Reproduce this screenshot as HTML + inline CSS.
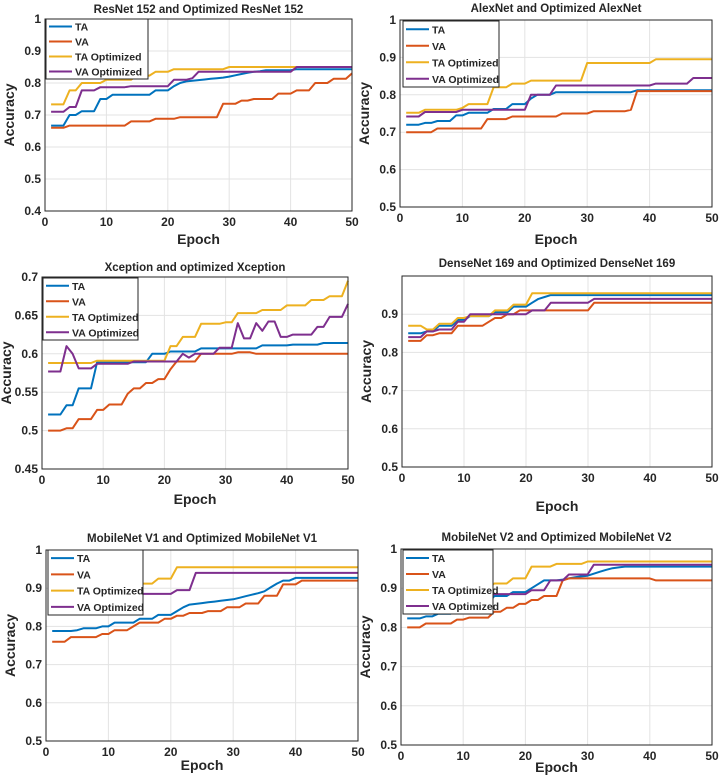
<!DOCTYPE html>
<html><head><meta charset="utf-8"><style>
body{margin:0;background:#fff}
svg text{font-family:"Liberation Sans",sans-serif;font-weight:bold;fill:#262626}
</style></head><body>
<svg id="c" width="720" height="777" xmlns="http://www.w3.org/2000/svg"></svg>
<script>
const epochs=[1,2,3,4,5,6,7,8,9,10,11,12,13,14,15,16,17,18,19,20,21,22,23,24,25,26,27,28,29,30,31,32,33,34,35,36,37,38,39,40,41,42,43,44,45,46,47,48,49,50];
const seriesNames=["TA","VA","TA Optimized","VA Optimized"];
const xTicks=[0,10,20,30,40,50];

const resnetTA=[.667,.667,.667,.70,.70,.712,.712,.712,.75,.75,.763,.763,.763,.763,.763,.763,.763,.777,.777,.777,.79,.80,.805,.807,.809,.811,.813,.815,.817,.82,.824,.828,.832,.835,.837,.84,.84,.84,.84,.84,.843,.843,.843,.843,.843,.843,.843,.843,.843,.843];
const resnetVA=[.66,.66,.66,.667,.667,.667,.667,.667,.667,.667,.667,.667,.667,.68,.68,.68,.68,.688,.688,.688,.688,.693,.693,.693,.693,.693,.693,.693,.735,.735,.735,.745,.745,.75,.75,.75,.75,.767,.767,.767,.777,.777,.777,.80,.80,.80,.813,.813,.813,.83];
const resnetTAopt=[.733,.733,.733,.777,.777,.80,.80,.80,.80,.81,.81,.81,.81,.81,.823,.823,.823,.835,.835,.835,.843,.843,.843,.843,.843,.843,.843,.843,.843,.85,.85,.85,.85,.85,.85,.85,.85,.85,.85,.85,.85,.85,.85,.85,.85,.85,.85,.85,.85,.85];
const resnetVAopt=[.71,.71,.71,.725,.725,.777,.777,.777,.787,.787,.787,.787,.787,.79,.79,.79,.79,.79,.79,.79,.81,.81,.81,.815,.835,.835,.835,.835,.835,.835,.835,.835,.835,.835,.835,.835,.835,.835,.835,.835,.85,.85,.85,.85,.85,.85,.85,.85,.85,.85];

const alexTA=[.72,.72,.72,.725,.725,.73,.73,.73,.745,.745,.752,.752,.752,.752,.762,.762,.762,.775,.775,.775,.79,.80,.80,.80,.807,.807,.807,.807,.807,.807,.807,.807,.807,.807,.807,.807,.807,.812,.812,.812,.812,.812,.812,.812,.812,.812,.812,.812,.812,.812];
const alexVA=[.70,.70,.70,.70,.70,.71,.71,.71,.71,.71,.71,.71,.71,.735,.735,.735,.735,.742,.742,.742,.742,.742,.742,.742,.742,.75,.75,.75,.75,.75,.756,.756,.756,.756,.756,.756,.76,.81,.81,.81,.81,.81,.81,.81,.81,.81,.81,.81,.81,.81];
const alexTAopt=[.752,.752,.752,.76,.76,.76,.76,.76,.76,.765,.775,.775,.775,.775,.82,.82,.82,.83,.83,.83,.838,.838,.838,.838,.838,.838,.838,.838,.838,.885,.885,.885,.885,.885,.885,.885,.885,.885,.885,.885,.895,.895,.895,.895,.895,.895,.895,.895,.895,.895];
const alexVAopt=[.742,.742,.742,.754,.754,.754,.754,.754,.754,.76,.76,.76,.76,.76,.76,.76,.76,.76,.76,.76,.80,.80,.80,.80,.825,.825,.825,.825,.825,.825,.825,.825,.825,.825,.825,.825,.825,.825,.825,.825,.83,.83,.83,.83,.83,.83,.845,.845,.845,.845];

const xcepTA=[.521,.521,.521,.533,.533,.555,.555,.555,.589,.589,.589,.589,.589,.589,.589,.589,.589,.60,.60,.60,.603,.603,.603,.603,.603,.607,.607,.607,.607,.607,.607,.607,.607,.607,.607,.611,.611,.611,.611,.611,.612,.612,.612,.612,.612,.614,.614,.614,.614,.614];
const xcepVA=[.50,.50,.50,.503,.503,.515,.515,.515,.527,.527,.534,.534,.534,.548,.555,.555,.562,.562,.567,.567,.58,.59,.59,.59,.59,.60,.60,.60,.60,.60,.60,.602,.602,.602,.60,.60,.60,.60,.60,.60,.60,.60,.60,.60,.60,.60,.60,.60,.60,.60];
const xcepTAopt=[.588,.588,.588,.588,.588,.588,.588,.588,.591,.591,.591,.591,.591,.591,.591,.591,.591,.591,.591,.591,.61,.61,.622,.622,.622,.639,.639,.639,.639,.641,.641,.653,.653,.653,.653,.657,.657,.657,.657,.663,.663,.663,.663,.67,.67,.67,.675,.675,.675,.695];
const xcepVAopt=[.577,.577,.577,.61,.60,.581,.581,.581,.587,.587,.587,.587,.587,.587,.59,.59,.59,.59,.59,.59,.59,.59,.60,.595,.60,.60,.60,.60,.608,.608,.608,.64,.62,.62,.64,.63,.642,.642,.622,.622,.625,.625,.625,.625,.635,.635,.648,.648,.648,.665];

const denseTA=[.85,.85,.85,.855,.855,.87,.87,.87,.885,.885,.895,.895,.895,.895,.905,.905,.905,.92,.92,.92,.93,.94,.945,.95,.95,.95,.95,.95,.95,.95,.95,.95,.95,.95,.95,.95,.95,.95,.95,.95,.95,.95,.95,.95,.95,.95,.95,.95,.95,.95];
const denseVA=[.83,.83,.83,.845,.845,.85,.85,.85,.87,.87,.87,.87,.87,.88,.89,.89,.90,.90,.91,.91,.91,.91,.91,.91,.91,.91,.91,.91,.91,.91,.93,.93,.93,.93,.93,.93,.93,.93,.93,.93,.93,.93,.93,.93,.93,.93,.93,.93,.93,.93];
const denseTAopt=[.87,.87,.87,.86,.86,.875,.875,.875,.89,.89,.895,.895,.895,.895,.91,.91,.91,.925,.925,.925,.955,.955,.955,.955,.955,.955,.955,.955,.955,.955,.955,.955,.955,.955,.955,.955,.955,.955,.955,.955,.955,.955,.955,.955,.955,.955,.955,.955,.955,.955];
const denseVAopt=[.84,.84,.84,.855,.855,.86,.86,.86,.88,.88,.90,.90,.90,.90,.90,.90,.90,.90,.90,.90,.91,.91,.91,.93,.93,.93,.93,.93,.93,.93,.94,.94,.94,.94,.94,.94,.94,.94,.94,.94,.94,.94,.94,.94,.94,.94,.94,.94,.94,.94];

const mob1TA=[.788,.788,.788,.788,.79,.795,.795,.795,.80,.80,.81,.81,.81,.81,.82,.82,.82,.83,.83,.83,.84,.85,.857,.859,.861,.863,.865,.867,.869,.871,.875,.879,.883,.887,.892,.902,.912,.92,.92,.927,.927,.927,.927,.927,.927,.927,.927,.927,.927,.927];
const mob1VA=[.76,.76,.76,.772,.772,.772,.772,.772,.78,.78,.79,.79,.79,.80,.81,.81,.81,.81,.82,.82,.828,.828,.835,.835,.835,.84,.84,.84,.85,.85,.85,.86,.86,.86,.88,.88,.88,.91,.91,.91,.92,.92,.92,.92,.92,.92,.92,.92,.92,.92];
const mob1TAopt=[.90,.90,.90,.90,.90,.90,.90,.90,.90,.90,.90,.90,.90,.90,.912,.912,.912,.925,.925,.925,.955,.955,.955,.955,.955,.955,.955,.955,.955,.955,.955,.955,.955,.955,.955,.955,.955,.955,.955,.955,.955,.955,.955,.955,.955,.955,.955,.955,.955,.955];
const mob1VAopt=[.88,.88,.88,.88,.88,.88,.88,.88,.88,.88,.88,.88,.88,.88,.885,.885,.885,.885,.885,.885,.895,.895,.895,.94,.94,.94,.94,.94,.94,.94,.94,.94,.94,.94,.94,.94,.94,.94,.94,.94,.94,.94,.94,.94,.94,.94,.94,.94,.94,.94];

const mob2TA=[.823,.823,.823,.828,.828,.835,.835,.835,.845,.845,.86,.86,.86,.86,.88,.88,.88,.89,.89,.89,.90,.91,.92,.92,.92,.922,.925,.928,.93,.932,.937,.942,.947,.951,.953,.955,.955,.955,.955,.955,.955,.955,.955,.955,.955,.955,.955,.955,.955,.955];
const mob2VA=[.80,.80,.80,.81,.81,.81,.81,.81,.82,.82,.825,.825,.825,.825,.84,.84,.85,.85,.86,.86,.87,.87,.88,.88,.88,.92,.925,.925,.925,.925,.925,.925,.925,.925,.925,.925,.925,.925,.925,.925,.92,.92,.92,.92,.92,.92,.92,.92,.92,.92];
const mob2TAopt=[.90,.90,.90,.90,.90,.90,.90,.90,.90,.90,.90,.90,.90,.90,.912,.912,.912,.925,.925,.925,.955,.955,.955,.955,.962,.962,.962,.962,.962,.968,.968,.968,.968,.968,.968,.968,.968,.968,.968,.968,.968,.968,.968,.968,.968,.968,.968,.968,.968,.968];
const mob2VAopt=[.88,.88,.88,.88,.88,.88,.88,.88,.88,.88,.88,.88,.88,.88,.885,.885,.885,.885,.885,.885,.895,.895,.895,.92,.92,.92,.935,.935,.935,.935,.96,.96,.96,.96,.96,.96,.96,.96,.96,.96,.96,.96,.96,.96,.96,.96,.96,.96,.96,.96];

const ticks04=["0.4","0.5","0.6","0.7","0.8","0.9","1"];
const ticks05=["0.5","0.6","0.7","0.8","0.9","1"];
const ticksX=["0.45","0.5","0.55","0.6","0.65","0.7"];
const ticksD=["0.5","0.6","0.7","0.8","0.9"];

const colors=["#0072BD","#D95319","#EDB120","#7E2F8E"];
const panels=[
 {name:"resnet",title:"ResNet 152 and Optimized ResNet 152",box:[45,19,352,211],y0:.4,y1:1,yt:ticks04,leg:[46,19,102,60],ty:13,ey:244,s:[resnetTA,resnetVA,resnetTAopt,resnetVAopt]},
 {name:"alexnet",title:"AlexNet and Optimized AlexNet",box:[400,20,712,207],y0:.5,y1:1,yt:ticks05,leg:[403,21,96,66],ty:12,ey:244,s:[alexTA,alexVA,alexTAopt,alexVAopt]},
 {name:"xception",title:"Xception and optimized Xception",box:[42,277,348,469],y0:.45,y1:.7,yt:ticksX,leg:[43,278,95,62],ty:271,ey:504,s:[xcepTA,xcepVA,xcepTAopt,xcepVAopt]},
 {name:"densenet",title:"DenseNet 169 and Optimized DenseNet 169",box:[402,276,712,467],y0:.5,y1:1,yt:ticksD,leg:null,ty:267,ey:511,s:[denseTA,denseVA,denseTAopt,denseVAopt]},
 {name:"mobilenet-v1",title:"MobileNet V1 and Optimized MobileNet V1",box:[46,550,358,741],y0:.5,y1:1,yt:ticks05,leg:[48,550,95,65],ty:542,ey:770,s:[mob1TA,mob1VA,mob1TAopt,mob1VAopt]},
 {name:"mobilenet-v2",title:"MobileNet V2 and Optimized MobileNet V2",box:[401,549,712,745],y0:.5,y1:1,yt:ticks05,leg:[403,550,90,64],ty:541,ey:772,s:[mob2TA,mob2VA,mob2TAopt,mob2VAopt]}
];
const NS="http://www.w3.org/2000/svg";
const svg=document.getElementById("c");
function mk(tag,attrs,parent){const e=document.createElementNS(NS,tag);for(const k in attrs)e.setAttribute(k,attrs[k]);parent.appendChild(e);return e;}
panels.forEach(p=>{
 const g=mk("g",{},svg);
 
 
 const [L,T,R,B]=p.box;
 const xs=v=>L+(v-0)/(50-0)*(R-L);
 const ys=v=>B-(v-p.y0)/(p.y1-p.y0)*(B-T);
 mk("rect",{x:L,y:T,width:R-L,height:B-T,fill:"#fff",stroke:"none"},g);
 xTicks.forEach(t=>{
  mk("line",{x1:xs(t),x2:xs(t),y1:T,y2:B,stroke:"#e3e3e3","stroke-width":1},g);
  const tx=mk("text",{x:xs(t),y:B+15,"text-anchor":"middle","font-size":12},g);
  tx.textContent=t;
  
  
 });
 p.yt.forEach(lbl=>{
  const v=parseFloat(lbl);
  mk("line",{x1:L,x2:R,y1:ys(v),y2:ys(v),stroke:"#e3e3e3","stroke-width":1},g);
  const tx=mk("text",{x:L-4,y:ys(v)+4,"text-anchor":"end","font-size":12},g);
  tx.textContent=lbl;
  
  
 });
 p.s.forEach((arr,i)=>{
  const d=arr.map((v,j)=>(j?"L":"M")+xs(epochs[j]).toFixed(1)+" "+ys(v).toFixed(1)).join(" ");
  const path=mk("path",{d:d,fill:"none",stroke:colors[i],"stroke-width":2,"stroke-linejoin":"round"},g);
  
  
 });
 mk("rect",{x:L,y:T,width:R-L,height:B-T,fill:"none",stroke:"#262626","stroke-width":1},g);
 const title=mk("text",{x:(L+R)/2,y:p.ty,"text-anchor":"middle","font-size":11.5},g);
 title.textContent=p.title;
 
 
 const xl=mk("text",{x:(L+R)/2,y:p.ey,"text-anchor":"middle","font-size":14},g);
 xl.textContent="Epoch";
 
 
 const cy=(T+B)/2;
 const yl=mk("text",{x:0,y:0,"text-anchor":"middle","font-size":14,transform:`translate(${L-31},${cy}) rotate(-90)`},g);
 yl.textContent="Accuracy";
 
 
 if(p.leg){
  const [lx,ly,lw,lh]=p.leg;
  const lg=mk("g",{},g);
  
  
  mk("rect",{x:lx,y:ly,width:lw,height:lh,fill:"#fff",stroke:"#262626","stroke-width":1},lg);
  const step=lh/4;
  seriesNames.forEach((n,i)=>{
   const yy=ly+step*(i+0.5);
   mk("line",{x1:lx+3,x2:lx+26,y1:yy,y2:yy,stroke:colors[i],"stroke-width":2},lg);
   const t=mk("text",{x:lx+29,y:yy+4,"font-size":10.5},lg);
   t.textContent=n;
   
   
  });
 }
});
</script>
</body></html>
